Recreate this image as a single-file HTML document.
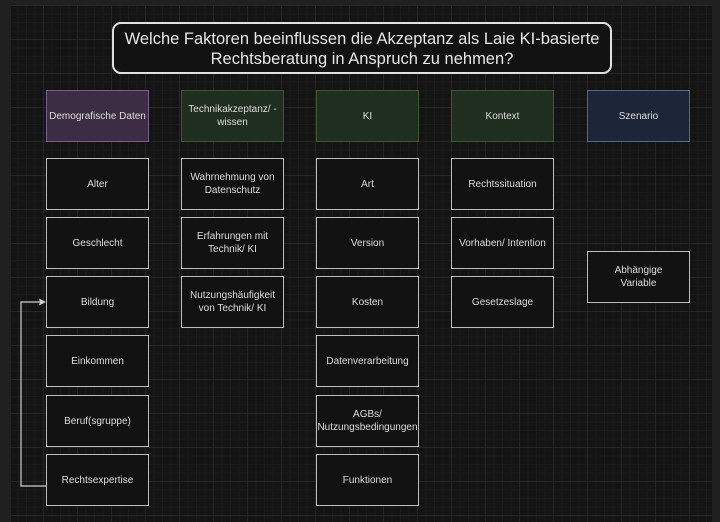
<!DOCTYPE html>
<html><head><meta charset="utf-8"><style>
body{margin:0;width:720px;height:522px;background:#202020;position:relative;overflow:hidden;font-family:"Liberation Sans",sans-serif;}
#c{position:absolute;left:11px;top:5px;width:701px;height:517px;background-color:#141414;
background-image:linear-gradient(#262626 1px,transparent 1px),linear-gradient(90deg,#262626 1px,transparent 1px),linear-gradient(#1a1a1a 1px,transparent 1px),linear-gradient(90deg,#1a1a1a 1px,transparent 1px);
background-size:34px 34px,34px 34px,8.5px 8.5px,8.5px 8.5px;background-position:-2px 0,-2px 0,-2px 0,-2px 0;}
.b{position:absolute;box-sizing:border-box;width:103px;height:52px;border:1.5px solid #bdbdbd;background:#121212;color:#ddd;font-size:10px;display:flex;align-items:center;justify-content:center;text-align:center;line-height:13px;}
.p{background:#3c2d45;border-color:#7a5e8c;}
.g{background:#1f2e1e;border-color:#3b5a2e;}
.bl{background:#1d2638;border-color:#4c6a90;}
#t{position:absolute;left:112px;top:22px;width:500px;height:52px;box-sizing:border-box;border:2px solid #e0e0e0;border-radius:9px;background:#121212;color:#e6e6e6;font-size:16.5px;text-align:center;line-height:20px;padding-top:5px;white-space:nowrap;}
</style></head><body>
<div id="c"></div>
<div id="t">Welche Faktoren beeinflussen die Akzeptanz als Laie KI-basierte<br>Rechtsberatung in Anspruch zu nehmen?</div>

<div class="b p" style="left:46px;top:90px">Demografische Daten</div>
<div class="b g" style="left:181px;top:90px">Technikakzeptanz/ -<br>wissen</div>
<div class="b g" style="left:316px;top:90px">KI</div>
<div class="b g" style="left:451px;top:90px">Kontext</div>
<div class="b bl" style="left:587px;top:90px">Szenario</div>

<div class="b" style="left:46px;top:158px">Alter</div>
<div class="b" style="left:46px;top:217px">Geschlecht</div>
<div class="b" style="left:46px;top:276px">Bildung</div>
<div class="b" style="left:46px;top:335px">Einkommen</div>
<div class="b" style="left:46px;top:395px">Beruf(sgruppe)</div>
<div class="b" style="left:46px;top:454px">Rechtsexpertise</div>

<div class="b" style="left:181px;top:158px">Wahrnehmung von<br>Datenschutz</div>
<div class="b" style="left:181px;top:217px">Erfahrungen mit<br>Technik/ KI</div>
<div class="b" style="left:181px;top:276px">Nutzungshäufigkeit<br>von Technik/ KI</div>

<div class="b" style="left:316px;top:158px">Art</div>
<div class="b" style="left:316px;top:217px">Version</div>
<div class="b" style="left:316px;top:276px">Kosten</div>
<div class="b" style="left:316px;top:335px">Datenverarbeitung</div>
<div class="b" style="left:316px;top:395px">AGBs/<br>Nutzungsbedingungen</div>
<div class="b" style="left:316px;top:454px">Funktionen</div>

<div class="b" style="left:451px;top:158px">Rechtssituation</div>
<div class="b" style="left:451px;top:217px">Vorhaben/ Intention</div>
<div class="b" style="left:451px;top:276px">Gesetzeslage</div>

<div class="b" style="left:587px;top:251px">Abhängige<br>Variable</div>

<svg style="position:absolute;left:0;top:0" width="720" height="522">
<polyline points="46,486 21,486 21,302 40,302" fill="none" stroke="#cfcfcf" stroke-width="1.2"/>
<polygon points="46,302 39,298.5 40,302 39,305.5" fill="#cfcfcf"/>
</svg>
</body></html>
